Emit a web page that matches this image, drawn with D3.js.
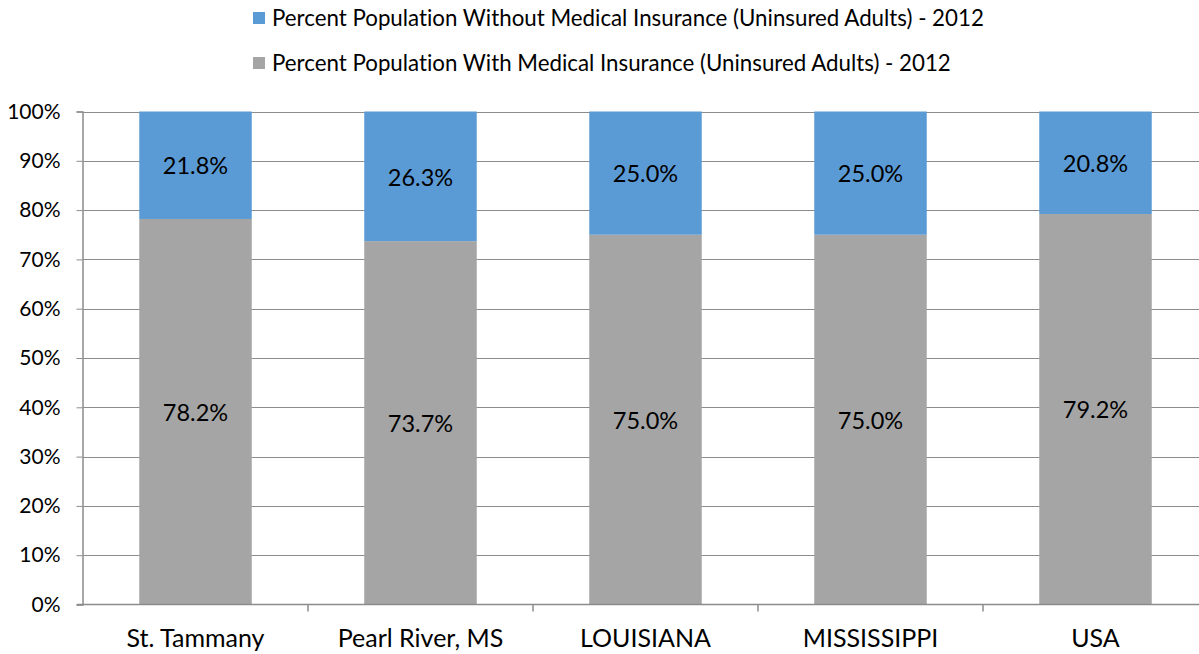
<!DOCTYPE html>
<html><head><meta charset="utf-8">
<script src="https://cdn.jsdelivr.net/npm/d3@7"></script>
<style>body{margin:0;background:#fff}svg{display:block}text{font-family:Lato, "Open Sans", sans-serif;fill:#000;font-variant-ligatures:none}</style>
</head><body><svg id="c" width="1199" height="654"></svg>
<script>
const categories = ["St. Tammany","Pearl River, MS","LOUISIANA","MISSISSIPPI","USA"];
const withoutIns = [21.8, 26.3, 25.0, 25.0, 20.8];
const withIns = [78.2, 73.7, 75.0, 75.0, 79.2];
const seriesNames = ["Percent Population Without Medical Insurance (Uninsured Adults) - 2012","Percent Population With Medical Insurance (Uninsured Adults) - 2012"];
const yTicks = [0,10,20,30,40,50,60,70,80,90,100];
const colors = {without:"#5B9BD5", with:"#A5A5A5"};

const svg = d3.select("#c");
const L=83, R=1208, T=111.5, B=604.5;
const x = d3.scaleBand().domain(categories).range([L,R]).paddingInner(0.5).paddingOuter(0.25);
const y = d3.scaleLinear().domain([0,100]).range([B,T]);
const step = x.step();

// gridlines
svg.append("g").selectAll("line").data(yTicks.filter(d=>d>0)).join("line")
  .attr("x1",L).attr("x2",R).attr("y1",d=>Math.round(y(d))+0.5).attr("y2",d=>Math.round(y(d))+0.5)
  .attr("stroke","#8c8c8c").attr("stroke-width",1);

const data = categories.map((c,i)=>({c, w:withIns[i], wo:withoutIns[i]}));
// bars
svg.append("g").selectAll("rect").data(data).join("rect")
  .attr("x",d=>x(d.c)).attr("width",x.bandwidth())
  .attr("y",d=>y(d.w)).attr("height",d=>y(0)-y(d.w)).attr("fill",colors.with);
svg.append("g").selectAll("rect").data(data).join("rect")
  .attr("x",d=>x(d.c)).attr("width",x.bandwidth())
  .attr("y",d=>y(d.w+d.wo)).attr("height",d=>y(d.w)-y(d.w+d.wo)).attr("fill",colors.without);

// labels
const lab = svg.append("g").style("font-size","23.5px").attr("text-anchor","middle");
lab.selectAll("text.a").data(data).join("text").attr("class","a")
  .attr("x",d=>x(d.c)+x.bandwidth()/2).attr("y",d=>y(d.w/2)+1).attr("dy","0.35em")
  .text(d=>d.w.toFixed(1)+"%");
lab.selectAll("text.b").data(data).join("text").attr("class","b")
  .attr("x",d=>x(d.c)+x.bandwidth()/2).attr("y",d=>y(d.w+d.wo/2)+1).attr("dy","0.35em")
  .text(d=>d.wo.toFixed(1)+"%");

// y axis
const ya = svg.append("g").attr("transform",`translate(${L-0.5},0)`)
  .call(d3.axisLeft(y).tickValues(yTicks).tickSize(6).tickPadding(16).tickFormat(d=>d+"%"));
ya.select(".domain").attr("stroke","#8c8c8c").attr("stroke-width",1.5);
ya.selectAll(".tick line").attr("stroke","#8c8c8c");
ya.selectAll(".tick text").style("font-size","21px").style("font-family","Lato").attr("fill","#000");

// x axis
const xa = svg.append("g").attr("transform",`translate(0,${B})`);
xa.append("line").attr("x1",L-6).attr("x2",R).attr("stroke","#8c8c8c").attr("stroke-width",1.5);
xa.selectAll("line.t").data(categories).join("line").attr("class","t")
  .attr("x1",d=>x(d)+x.bandwidth()+step*0.25).attr("x2",d=>x(d)+x.bandwidth()+step*0.25)
  .attr("y1",0).attr("y2",7).attr("stroke","#8c8c8c").attr("stroke-width",1.5);
xa.selectAll("text").data(categories).join("text")
  .attr("x",d=>x(d)+x.bandwidth()/2).attr("y",42).attr("text-anchor","middle")
  .style("font-size","25px").text(d=>d);

// legend
const lg = svg.append("g");
const legendItems = [{n:seriesNames[0],c:colors.without},{n:seriesNames[1],c:colors.with}];
legendItems.forEach((d,i)=>{
  const yy = 18 + i*45;
  lg.append("rect").attr("x",253).attr("y",yy-6).attr("width",12).attr("height",12).attr("fill",d.c);
  lg.append("text").attr("x",272).attr("y",yy).attr("dy","0.35em").style("font-size","22.3px").text(d.n);
});
</script></body></html>
